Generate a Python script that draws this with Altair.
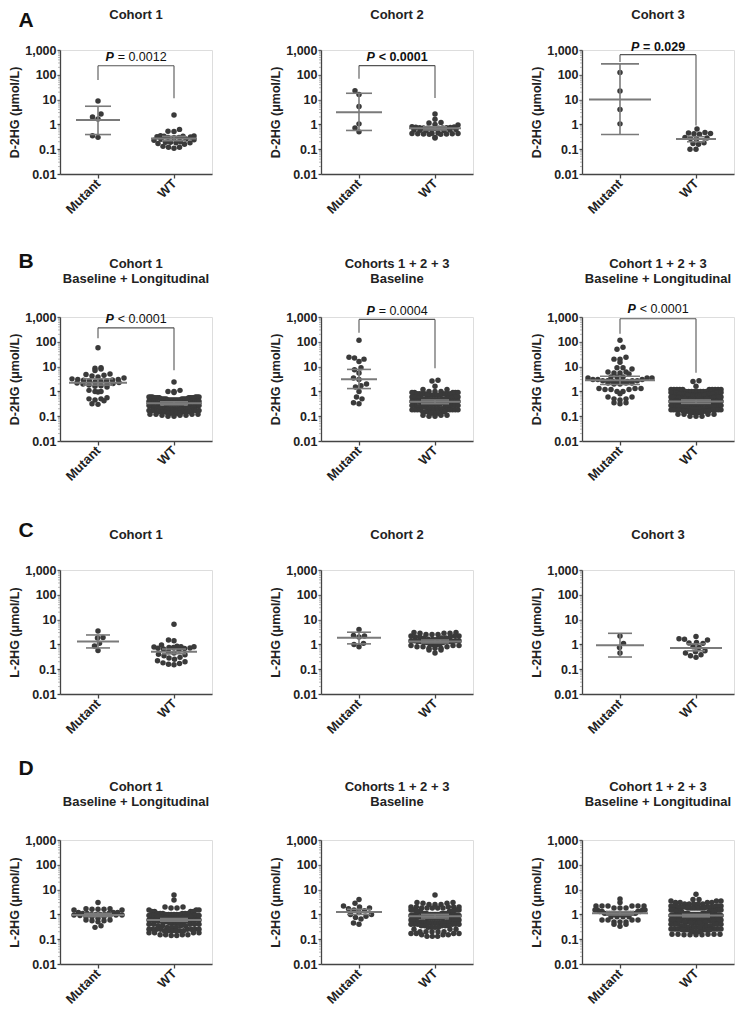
import math
import altair as alt
import pandas as pd

FONT = "Liberation Sans"
PW, PH = 152, 124          # plot area of each panel
UNIT = PW / 2.0            # px per x unit (domain -0.5 .. 1.5)
DEC = PH / 5.0             # px per decade
DOT = 6.0

GROUPS = ["Mutant", "WT"]
Y_TICKS = [0.01, 0.1, 1, 10, 100, 1000]
Y_MINOR = [m * 10.0 ** e for e in range(-2, 3) for m in range(2, 10)]

# ---------------- data ----------------
A1_MUT = [8.8, 2.6, 2.0, 1.65, 0.35, 0.3]
A1_WT = [2.4, 0.63, 0.53, 0.52, 0.35, 0.34, 0.33, 0.33, 0.32, 0.31, 0.3, 0.3, 0.29,
         0.26, 0.25, 0.24, 0.23, 0.2, 0.19, 0.19, 0.18, 0.18, 0.17, 0.16, 0.13, 0.12, 0.12, 0.11]
A2_MUT = [23, 16, 5.3, 1.05, 0.72, 0.5]
A2_WT = [2.6, 1.6, 1.2, 1.15, 1.0, 0.95, 0.8, 0.78, 0.76, 0.75, 0.74, 0.73, 0.72, 0.71, 0.7,
         0.7, 0.69, 0.68, 0.62, 0.6, 0.6, 0.58, 0.57, 0.55, 0.45, 0.44, 0.43, 0.43, 0.42, 0.42,
         0.41, 0.41, 0.4, 0.4, 0.3, 0.28]
A3_MUT = [125, 22, 4.0, 1.05]
A3_WT = [0.65, 0.47, 0.45, 0.43, 0.42, 0.4, 0.3, 0.28, 0.27, 0.26, 0.18, 0.17, 0.16, 0.1, 0.1]

B1_MUT = [58, 9.0, 8.5, 8.0, 7.0, 5.0, 4.8, 4.5, 4.2, 3.8, 3.5, 3.2, 3.0, 3.0, 2.9, 2.8, 2.7,
          2.6, 2.5, 2.4, 2.3, 2.2, 2.1, 2.0, 1.9, 1.8, 1.7, 1.6, 1.5, 1.1, 1.0, 1.0, 0.95, 0.55,
          0.5, 0.5, 0.45, 0.42, 0.32, 0.3]
# (value, count) pairs for the dense groups
B1_WT = [(2.4, 1), (1.1, 1), (1.0, 2), (0.9, 1), (0.6, 6), (0.55, 8), (0.5, 8), (0.45, 8),
         (0.4, 8), (0.35, 8), (0.3, 8), (0.27, 6), (0.24, 6), (0.21, 8), (0.19, 8), (0.17, 6),
         (0.15, 6), (0.13, 5), (0.12, 4), (0.11, 3), (0.1, 2)]
B2_MUT = [115, 24, 22, 20, 16, 9, 7.5, 5.5, 3.5, 3.0, 2.0, 1.7, 1.5, 1.0, 0.6, 0.5, 0.35, 0.32]
B2_WT = [(2.8, 1), (2.6, 1), (1.6, 1), (1.2, 2), (1.0, 3), (0.9, 5), (0.8, 8), (0.7, 6),
         (0.6, 6), (0.55, 5), (0.5, 5), (0.45, 6), (0.4, 9), (0.35, 6), (0.3, 6), (0.27, 5),
         (0.24, 5), (0.2, 5), (0.18, 9), (0.15, 5), (0.13, 4), (0.11, 3), (0.1, 2)]
B3_MUT = [(115, 1), (60, 1), (50, 1), (24, 1), (20, 2), (15, 1), (9, 2), (8, 1), (6, 2),
          (5.5, 2), (5, 1), (3.8, 3), (3.5, 3), (3.0, 3), (2.7, 4), (2.5, 4), (2.2, 3),
          (2.0, 2), (1.3, 3), (1.2, 3), (1.0, 2), (0.8, 1), (0.6, 2), (0.5, 2), (0.45, 1),
          (0.35, 2), (0.32, 1)]
B3_WT = [(2.7, 1), (2.5, 1), (1.6, 1), (1.2, 10), (1.0, 8), (0.9, 8), (0.8, 8), (0.7, 9),
         (0.6, 10), (0.55, 8), (0.5, 8), (0.45, 8), (0.4, 10), (0.35, 9), (0.3, 9), (0.27, 8),
         (0.24, 8), (0.2, 10), (0.18, 10), (0.16, 6), (0.14, 5), (0.12, 4), (0.1, 3)]

C1_MUT = [3.5, 1.9, 1.8, 1.1, 0.87, 0.57]
C1_WT = [6.5, 1.5, 1.4, 0.95, 0.85, 0.8, 0.8, 0.78, 0.75, 0.75, 0.72, 0.7, 0.68, 0.65, 0.6,
         0.5, 0.45, 0.4, 0.38, 0.35, 0.3, 0.28, 0.25, 0.22, 0.2, 0.18, 0.17, 0.16, 0.15]
C2_MUT = [4.0, 2.3, 2.2, 2.0, 1.1, 1.0, 0.8]
C2_WT = [(3.0, 2), (2.8, 3), (2.5, 3), (2.2, 3), (2.0, 3), (1.8, 3), (1.6, 3), (1.4, 4),
         (1.3, 5), (1.2, 3), (1.0, 4), (0.9, 3), (0.8, 3), (0.7, 3), (0.6, 2), (0.45, 1)]
C3_MUT = [2.2, 1.1, 0.75, 0.45]
C3_WT = [2.1, 1.7, 1.6, 1.5, 1.2, 1.15, 1.1, 0.8, 0.75, 0.55, 0.5, 0.45, 0.38, 0.35, 0.3]

D1_MUT = [(3.0, 1), (1.7, 2), (1.6, 3), (1.5, 2), (1.2, 3), (1.1, 3), (1.0, 4), (0.95, 3),
          (0.9, 2), (0.8, 3), (0.7, 1), (0.6, 2), (0.55, 2), (0.5, 1), (0.35, 1), (0.3, 1)]
D1_WT = [(6.0, 1), (3.8, 1), (2.0, 2), (1.8, 2), (1.5, 3), (1.3, 4), (1.1, 6), (1.0, 6),
         (0.9, 8), (0.8, 8), (0.7, 9), (0.6, 9), (0.55, 8), (0.5, 7), (0.45, 6), (0.4, 5),
         (0.35, 4), (0.3, 3), (0.25, 8), (0.22, 6), (0.18, 4), (0.15, 4), (0.14, 2)]
D2_MUT = [4.0, 2.8, 2.2, 2.0, 1.8, 1.7, 1.5, 1.4, 1.2, 1.0, 1.0, 0.85, 0.75, 0.65, 0.45, 0.4]
D2_WT = [(6.0, 1), (3.0, 2), (2.8, 2), (2.5, 3), (2.0, 5), (1.8, 5), (1.5, 6), (1.3, 6),
         (1.1, 7), (1.0, 7), (0.9, 7), (0.8, 7), (0.7, 7), (0.6, 7), (0.5, 7), (0.45, 6),
         (0.4, 6), (0.35, 5), (0.3, 4), (0.25, 3), (0.2, 5), (0.17, 4), (0.15, 3), (0.13, 3)]
D3_MUT = [(4.2, 1), (3.0, 1), (2.2, 6), (1.8, 3), (1.5, 4), (1.3, 4), (1.1, 8), (1.0, 6),
          (0.8, 4), (0.6, 4), (0.5, 3), (0.4, 2), (0.33, 1)]
D3_WT = [(6.5, 1), (4.0, 2), (3.5, 3), (3.0, 4), (2.6, 5), (2.2, 6), (2.0, 8), (1.8, 8),
         (1.5, 9), (1.3, 10), (1.1, 10), (1.0, 10), (0.9, 10), (0.8, 10), (0.7, 10), (0.6, 10),
         (0.55, 9), (0.5, 8), (0.45, 7), (0.4, 6), (0.35, 5), (0.3, 4), (0.26, 10), (0.24, 8),
         (0.2, 5), (0.16, 5), (0.15, 4)]

# central value and error-bar ends (mean, low, high) for Mutant and WT
STATS = {
    "A1": [(1.5, 0.39, 5.4), (0.27, 0.22, 0.33)],
    "A2": [(3.1, 0.57, 18), (0.7, 0.6, 0.8)],
    "A3": [(10.2, 0.39, 275), (0.26, 0.2, 0.32)],
    "B1": [(2.25, 1.8, 3.2), (0.33, 0.29, 0.38)],
    "B2": [(3.1, 1.3, 7.7), (0.38, 0.32, 0.45)],
    "B3": [(2.8, 1.9, 4.1), (0.39, 0.33, 0.45)],
    "C1": [(1.3, 0.72, 2.4), (0.5, 0.42, 0.65)],
    "C2": [(1.85, 1.05, 3.1), (1.3, 1.15, 1.5)],
    "C3": [(0.93, 0.31, 2.8), (0.72, 0.55, 1.05)],
    "D1": [(0.95, 0.82, 1.1), (0.6, 0.53, 0.68)],
    "D2": [(1.25, 1.0, 1.6), (0.85, 0.72, 1.0)],
    "D3": [(1.1, 0.95, 1.3), (0.9, 0.8, 1.0)],
}
# bracket (top, left-leg end, right-leg end) and P label (y, operator, value, all bold)
BRACKETS = {
    "A1": (233, 62, 11.3), "A2": (235, 69, 11.5), "A3": (650, 330, 0.9),
    "B1": (365, 138, 7.2), "B2": (800, 230, 8.5), "B3": (850, 209, 5.6),
}
PLABELS = {
    "A1": (537, "=", "0.0012", False), "A2": (510, "<", "0.0001", True),
    "A3": (1350, "=", "0.029", True), "B1": (810, "<", "0.0001", False),
    "B2": (1770, "=", "0.0004", False), "B3": (2050, "<", "0.0001", False),
}
TITLES = {
    "A1": ["Cohort 1"], "A2": ["Cohort 2"], "A3": ["Cohort 3"],
    "B1": ["Cohort 1", "Baseline + Longitudinal"], "B2": ["Cohorts 1 + 2 + 3", "Baseline"],
    "B3": ["Cohort 1 + 2 + 3", "Baseline + Longitudinal"],
    "C1": ["Cohort 1"], "C2": ["Cohort 2"], "C3": ["Cohort 3"],
    "D1": ["Cohort 1", "Baseline + Longitudinal"], "D2": ["Cohorts 1 + 2 + 3", "Baseline"],
    "D3": ["Cohort 1 + 2 + 3", "Baseline + Longitudinal"],
}
Y_TITLES = {"A": "D-2HG (μmol/L)", "B": "D-2HG (μmol/L)", "C": "L-2HG (μmol/L)", "D": "L-2HG (μmol/L)"}
DATA = {
    "A1": (A1_MUT, A1_WT), "A2": (A2_MUT, A2_WT), "A3": (A3_MUT, A3_WT),
    "B1": (B1_MUT, B1_WT), "B2": (B2_MUT, B2_WT), "B3": (B3_MUT, B3_WT),
    "C1": (C1_MUT, C1_WT), "C2": (C2_MUT, C2_WT), "C3": (C3_MUT, C3_WT),
    "D1": (D1_MUT, D1_WT), "D2": (D2_MUT, D2_WT), "D3": (D3_MUT, D3_WT),
}

# ---------------- styling (pixels) ----------------
HALF_W = {  # (mean line half width, cap half width) per group
    "A1": [(22, 13), (23, 12)], "A2": [(23, 13), (26, 12)], "A3": [(31, 19), (20, 9)],
    "B1": [(29, 15), (28, 14)], "B2": [(18, 12), (26, 14)], "B3": [(35, 20), (28, 15)],
    "C1": [(21, 12), (23, 12)], "C2": [(22, 12), (27, 14)], "C3": [(24, 12), (26, 9)],
    "D1": [(27, 14), (28, 14)], "D2": [(23, 12), (27, 14)], "D3": [(28, 14), (28, 14)],
}
LETTER_DY = {"A": -29, "B": -55, "C": -39, "D": -71}
TITLE_DY = {1: [-35], 2: [-53, -38]}
PT_COLOR = "#3a3a3a"
LINE_COLOR = "#7a7a7a"
AX_COLOR = "#444444"
ROW_H = 4.5    # row height used to arrange dense groups


def values_of(raw):
    out = []
    for item in raw:
        if isinstance(item, tuple):
            out.extend([item[0]] * item[1])
        else:
            out.append(item)
    return out


def swarm(vals, maxhw):
    """non-overlapping beeswarm (sparse groups)"""
    ys = [math.log10(v) * DEC for v in vals]
    order = sorted(range(len(vals)), key=lambda i: ys[i])
    cands = [0.0]
    k = 1
    while k * 0.5 <= maxhw:
        cands += [k * 0.5, -k * 0.5]
        k += 1
    placed, xs = [], [0.0] * len(vals)
    for n, i in enumerate(order):
        y = ys[i]
        near = [(px, py) for px, py in placed if abs(py - y) < DOT]
        sign = 1 if n % 2 == 0 else -1
        best, bestd, bestc = None, -1.0, 0.0
        for c0 in cands:
            c = c0 * sign
            md = min((math.hypot(c - px, y - py) for px, py in near), default=1e9)
            if md >= DOT * 0.92:
                best = c
                break
            if md > bestd:
                bestd, bestc = md, c
        if best is None:
            best = bestc
        xs[i] = best
        placed.append((best, y))
    return xs


def rows_layout(vals, maxhw):
    """GraphPad-like rows: values binned in rows, lowest values at the centre"""
    ys = [math.log10(v) * DEC for v in vals]
    bins = {}
    for i, y in enumerate(ys):
        bins.setdefault(int(math.floor(y / ROW_H)), []).append(i)
    xs = [0.0] * len(vals)
    for b, idx in bins.items():
        n = len(idx)
        if n == 1:
            continue
        step = min(DOT, 2 * maxhw / (n - 1))
        offs = [(k - (n - 1) / 2.0) * step for k in range(n)]
        offs.sort(key=lambda o: (abs(o), o))
        idx.sort(key=lambda i: ys[i])
        for i, o in zip(idx, offs):
            xs[i] = o
    return xs


CW = {"=": 7.0, "<": 7.0, " ": 3.3, ".": 3.3}


def text_w(s, size):
    return sum(CW.get(ch, 6.67) for ch in s) * size / 12.0


xsc = alt.Scale(domain=[-0.5, 1.5], nice=False, zero=False)
ysc = alt.Scale(type="log", domain=[0.01, 1000], nice=False)


def x_axis():
    return alt.Axis(values=[0, 1], labelExpr="datum.value == 0 ? 'Mutant' : 'WT'",
                    labelAngle=-45, labelAlign="right", labelBaseline="middle",
                    labelFont=FONT, labelFontSize=13, labelFontWeight="bold", labelColor="#222",
                    labelPadding=3, tickSize=4, tickColor=AX_COLOR, domainColor=AX_COLOR,
                    domainWidth=1.3, tickWidth=1.3, grid=False, title=None)


def y_axis(title):
    return alt.Axis(values=Y_TICKS, format=",~g", labelFont=FONT, labelFontSize=12.5,
                    labelFontWeight="bold", labelColor="#222", labelPadding=1, tickSize=3,
                    tickColor=AX_COLOR, domainColor=AX_COLOR, domainWidth=1.3, tickWidth=1.3,
                    grid=False, title=title, titleFont=FONT, titleFontSize=12.5,
                    titleFontWeight="bold", titleColor="#222", titlePadding=3)


def panel(key):
    row, col = key[0], int(key[1])
    mut, wt = DATA[key]
    XA, YA = x_axis(), y_axis(Y_TITLES[row])

    def X(f):
        return alt.X(f, type="quantitative", scale=xsc, axis=XA)

    def Y(f):
        return alt.Y(f, type="quantitative", scale=ysc, axis=YA)

    pts, hbars, vbars = [], [], []
    for gi, raw in enumerate((mut, wt)):
        vals = values_of(raw)
        mhw, chw = HALF_W[key][gi]
        if len(vals) > 32:
            xs = rows_layout(vals, mhw - 3)
        else:
            xs = swarm(vals, mhw - 3)
        for v, dx in zip(vals, xs):
            pts.append({"x": gi + dx / UNIT, "v": v})
        m, lo, hi = STATS[key][gi]
        hbars.append({"x": gi - mhw / UNIT, "x2": gi + mhw / UNIT, "v": m, "w": 2.0})
        hbars.append({"x": gi - chw / UNIT, "x2": gi + chw / UNIT, "v": lo, "w": 1.6})
        hbars.append({"x": gi - chw / UNIT, "x2": gi + chw / UNIT, "v": hi, "w": 1.6})
        vbars.append({"x": gi, "v": lo, "v2": hi})

    minor = pd.DataFrame({"v": Y_MINOR})
    layers = [
        alt.Chart(minor).mark_rule(color="#9a9a9a", strokeWidth=0.7)
        .encode(x=alt.value(-2), x2=alt.value(0), y=Y("v")),
        alt.Chart(pd.DataFrame(pts)).mark_circle(size=30, color=PT_COLOR, opacity=1)
        .encode(x=X("x"), y=Y("v")),
        alt.Chart(pd.DataFrame(vbars)).mark_rule(color=LINE_COLOR, strokeWidth=1.6)
        .encode(x=X("x"), y=Y("v"), y2="v2"),
        alt.Chart(pd.DataFrame(hbars)).mark_rule(color=LINE_COLOR)
        .encode(x=X("x"), x2="x2", y=Y("v"),
                strokeWidth=alt.StrokeWidth("w:Q", scale=None, legend=None)),
    ]

    if key in BRACKETS:
        top, lb, rb = BRACKETS[key]
        legs = pd.DataFrame([{"x": 0, "v": lb, "v2": top}, {"x": 1, "v": rb, "v2": top}])
        bar = pd.DataFrame([{"x": 0, "x2": 1, "v": top}])
        layers.append(alt.Chart(legs).mark_rule(color="#555", strokeWidth=1.1)
                      .encode(x=X("x"), y=Y("v"), y2="v2"))
        layers.append(alt.Chart(bar).mark_rule(color="#555", strokeWidth=1.1)
                      .encode(x=X("x"), x2="x2", y=Y("v")))
        py, op, num, allbold = PLABELS[key]
        rest = op + " " + num
        size = 12.5
        wp = 8.3 * size / 12.0
        sp = 3.4 * size / 12.0
        total = wp + sp + text_w(rest, size)
        lab = pd.DataFrame([{"x": 0.5, "v": py, "t": "P", "r": rest}])
        layers.append(alt.Chart(lab).mark_text(font=FONT, fontSize=size, fontWeight="bold",
                                               fontStyle="italic", align="left",
                                               baseline="middle", dx=-total / 2, color="#111")
                      .encode(x=X("x"), y=Y("v"), text="t:N"))
        layers.append(alt.Chart(lab).mark_text(font=FONT, fontSize=size,
                                               fontWeight="bold" if allbold else "normal",
                                               align="left", baseline="middle",
                                               dx=-total / 2 + wp + sp, color="#111")
                      .encode(x=X("x"), y=Y("v"), text="r:N"))

    # panel title lines, drawn as text above the plot area
    lines = TITLES[key]
    tdf = pd.DataFrame([{"px": PW / 2, "py": dy, "t": t}
                        for t, dy in zip(lines, TITLE_DY[len(lines)])])
    layers.append(alt.Chart(tdf).mark_text(font=FONT, fontSize=13, fontWeight="bold",
                                           align="center", baseline="middle", color="#222")
                  .encode(x=alt.X("px:Q", scale=None), y=alt.Y("py:Q", scale=None),
                          text="t:N"))

    if col == 1:
        ldf = pd.DataFrame([{"px": -34, "py": LETTER_DY[row], "t": row}])
        layers.append(alt.Chart(ldf).mark_text(
            font=FONT, fontSize=21, fontWeight="bold", align="center", baseline="middle",
            color="#111").encode(x=alt.X("px:Q", scale=None), y=alt.Y("py:Q", scale=None),
                                 text="t:N"))

    return alt.layer(*layers).properties(width=PW, height=PH)


rows = {r: alt.hconcat(*[panel(f"{r}{c}") for c in (1, 2, 3)], spacing=56) for r in "ABCD"}

chart = alt.vconcat(
    rows["A"],
    alt.vconcat(
        rows["B"],
        alt.vconcat(rows["C"], rows["D"], spacing=20),
        spacing=35,
    ),
    spacing=33,
).properties(padding=0).configure_view(stroke=None).configure(font=FONT)

chart.save("out.html", embed_options={"renderer": "svg", "actions": False})
